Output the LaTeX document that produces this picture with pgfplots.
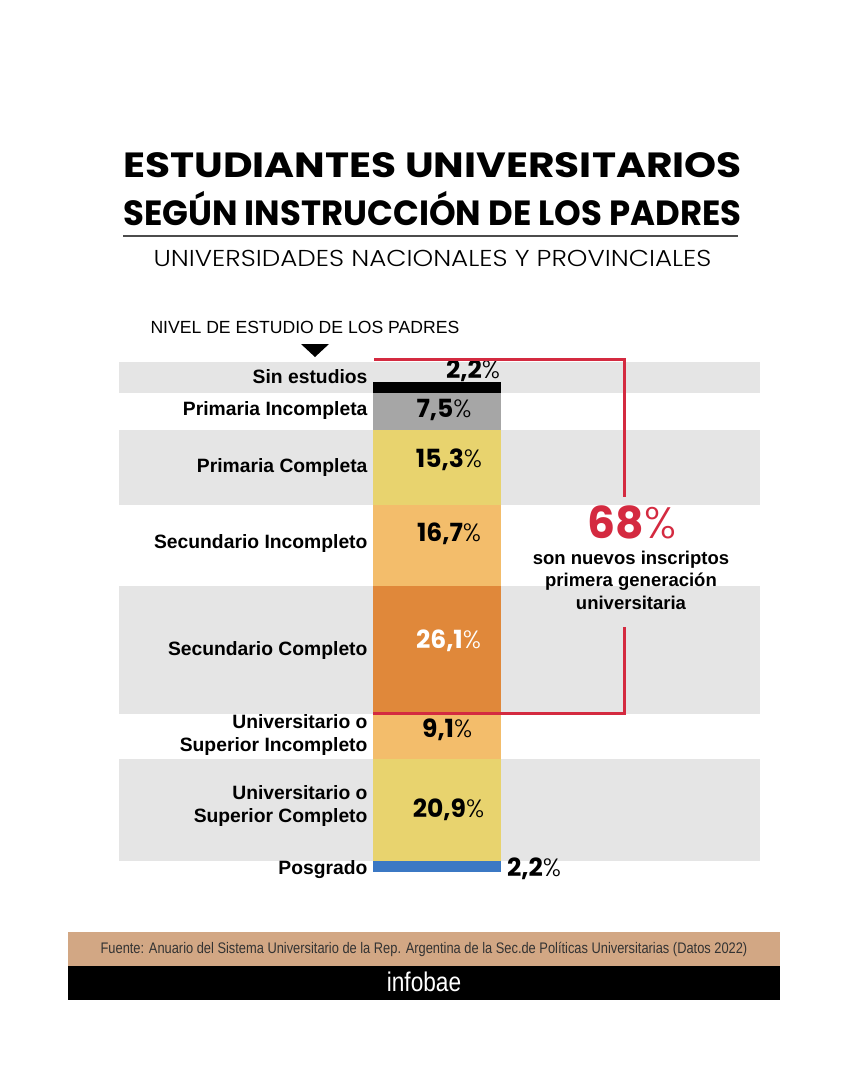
\documentclass[border=0pt]{standalone}
\usepackage{fontspec}
\usepackage{pgfplots}
\pgfplotsset{compat=1.18}
\setmainfont{Liberation Sans}
\newfontfamily\pop{Poppins}
\newfontfamily\popl{Poppins Light}
\newfontfamily\cond[FakeStretch=0.84]{Liberation Sans}
\definecolor{band}{HTML}{E5E5E5}
\definecolor{cgray}{HTML}{A6A6A6}
\definecolor{cyel}{HTML}{E8D36E}
\definecolor{clor}{HTML}{F3BD6B}
\definecolor{cor}{HTML}{E0883A}
\definecolor{cblue}{HTML}{3B78C4}
\definecolor{cred}{HTML}{D42A40}
\definecolor{ctan}{HTML}{D2A784}
\newcommand{\pct}[2][black]{{\color{#1}\pop\bfseries\fontsize{25}{25}\selectfont #2\popl\mdseries\%}}
\newcommand{\cat}{\bfseries\fontsize{19.3}{23}\selectfont}
\begin{document}
\begin{tikzpicture}
\fill[white] (0,0) rectangle (848pt,1080pt);
% background axis in pixel coordinates
\begin{axis}[at={(0pt,0pt)}, anchor=south west, width=848pt, height=1080pt,
  scale only axis, xmin=0, xmax=848, ymin=0, ymax=1080, y dir=reverse,
  hide axis, clip=false, enlargelimits=false]
\fill[band] (axis cs:119,362) rectangle (axis cs:760,392.8);
\fill[band] (axis cs:119,429.5) rectangle (axis cs:760,504.5);
\fill[band] (axis cs:119,586.3) rectangle (axis cs:760,714.2);
\fill[band] (axis cs:119,758.8) rectangle (axis cs:760,861.2);
% titles
\node[font=\pop\bfseries\fontsize{35}{35}\selectfont] at (axis cs:432.5,165) {\scalebox{1.164}[1]{ESTUDIANTES UNIVERSITARIOS}};
\node[font=\pop\bfseries\fontsize{35}{35}\selectfont] at (axis cs:432.5,209) {\scalebox{0.969}[1]{SEGÚN INSTRUCCIÓN DE LOS PADRES}};
\draw[black!70, line width=1.2pt] (axis cs:123,236) -- (axis cs:738,236);
\node[font=\popl\fontsize{23}{23}\selectfont] at (axis cs:432.5,258) {\scalebox{1.14}[1]{UNIVERSIDADES NACIONALES Y PROVINCIALES}};
\node[font=\fontsize{17.6}{17.6}\selectfont, anchor=west] at (axis cs:147,327) {NIVEL DE ESTUDIO DE LOS PADRES};
\fill (axis cs:301,344) -- (axis cs:329,344) -- (axis cs:315,357) -- cycle;
% category labels
\node[anchor=east, font=\cat] at (axis cs:371,377) {Sin estudios};
\node[anchor=east, font=\cat] at (axis cs:371,411) {Primaria Incompleta};
\node[anchor=east, font=\cat] at (axis cs:371,468) {Primaria Completa};
\node[anchor=east, font=\cat] at (axis cs:371,544) {Secundario Incompleto};
\node[anchor=east, font=\cat] at (axis cs:371,651) {Secundario Completo};
\node[anchor=east, font=\cat, align=right] at (axis cs:371,735) {Universitario o\\Superior Incompleto};
\node[anchor=east, font=\cat, align=right] at (axis cs:371,806) {Universitario o\\Superior Completo};
\node[anchor=east, font=\cat] at (axis cs:371,870) {Posgrado};
% 68 %
\node[text=cred] at (axis cs:632,522) {\pop\bfseries\fontsize{44}{44}\selectfont 68\popl\mdseries\%};
\node[font=\bfseries\fontsize{18.5}{22.5}\selectfont, align=center] at (axis cs:631,580) {son nuevos inscriptos\\primera generación\\universitaria};
% footer
\fill[ctan] (axis cs:68,932) rectangle (axis cs:780,966);
\fill[black] (axis cs:68,966) rectangle (axis cs:780,1000);
\node[text=black!80, font=\cond\fontsize{15.3}{15.3}\selectfont] at (axis cs:424,949) {Fuente: Anuario del Sistema Universitario de la Rep. Argentina de la Sec.de Políticas Universitarias (Datos 2022)};
\node[text=white, font=\cond\fontsize{27}{27}\selectfont] at (axis cs:424,982) {infobae};
\end{axis}
% stacked bar axis in percent
\begin{axis}[at={(373pt,698pt)}, anchor=north west, width=128pt, height=490pt,
  scale only axis, xmin=0, xmax=1, ymin=0, ymax=100, y dir=reverse,
  hide axis, clip=false, enlargelimits=false, ybar stacked, bar width=128pt]
\addplot[fill=black, draw=none] coordinates {(0.5,2.2)};
\addplot[fill=cgray, draw=none] coordinates {(0.5,7.5)};
\addplot[fill=cyel, draw=none] coordinates {(0.5,15.3)};
\addplot[fill=clor, draw=none] coordinates {(0.5,16.7)};
\addplot[fill=cor, draw=none] coordinates {(0.5,26.1)};
\addplot[fill=clor, draw=none] coordinates {(0.5,9.1)};
\addplot[fill=cyel, draw=none] coordinates {(0.5,20.9)};
\addplot[fill=cblue, draw=none] coordinates {(0.5,2.2)};
\end{axis}
% label axis, same frame as the bar axis
\begin{axis}[at={(373pt,698pt)}, anchor=north west, width=128pt, height=490pt,
  scale only axis, xmin=0, xmax=1, ymin=0, ymax=100, y dir=reverse,
  hide axis, clip=false, enlargelimits=false]
\node[anchor=east] at (axis cs:1.02,-2.3) {\pct{2,2}};
\node at (axis cs:0.555,5.7) {\pct{7,5}};
\node at (axis cs:0.594,15.8) {\pct{15,3}};
\node at (axis cs:0.594,31.0) {\pct{16,7}};
\node at (axis cs:0.59,52.9) {\pct[white]{26,1}};
\node at (axis cs:0.58,71.0) {\pct{9,1}};
\node at (axis cs:0.59,87.3) {\pct{20,9}};
\node[anchor=west] at (axis cs:1.02,99.4) {\pct{2,2}};
\end{axis}
% overlay axis for the bracket
\begin{axis}[at={(0pt,0pt)}, anchor=south west, width=848pt, height=1080pt,
  scale only axis, xmin=0, xmax=848, ymin=0, ymax=1080, y dir=reverse,
  hide axis, clip=false, enlargelimits=false]
\draw[cred, line width=3pt] (axis cs:374,359) -- (axis cs:624,359) -- (axis cs:624,497);
\draw[cred, line width=3pt] (axis cs:624,627) -- (axis cs:624,713) -- (axis cs:373,713);
\end{axis}
\end{tikzpicture}
\end{document}
